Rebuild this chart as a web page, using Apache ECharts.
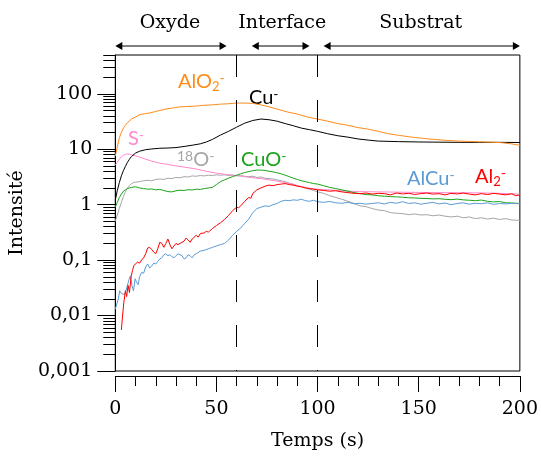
<!DOCTYPE html>
<html>
<head>
<meta charset="utf-8">
<script src="https://cdn.jsdelivr.net/npm/echarts@6/dist/echarts.min.js"></script>
<style>
  html, body { margin: 0; padding: 0; background: #fff; }
  #chart { width: 541px; height: 456px; }
</style>
</head>
<body>
<div id="chart"></div>
<script>
// --- data (time in s, intensity) ---
const alo2 = [[0,7.5],[1,11],[2,16],[3,20],[4,24],[5,27],[6,30],[8,35],[10,38],[12,42],[15,44],[17,45],[20,48],[22,50],[25,53],[28,55],[32,58],[36,59],[40,60],[44,62],[48,63],[52,65],[56,66],[60,68],[64,68],[68,67],[72,63],[76,58],[80,53],[85,47],[90,43],[95,38],[100,35],[105,32],[110,29],[115,27],[120,24.5],[125,23],[130,21],[135,19],[140,17.8],[145,16.8],[150,16],[155,15.3],[160,14.8],[165,14.3],[170,14],[175,13.8],[180,13.6],[185,13.4],[190,13.2],[195,12.6],[200,11.8]];
const cu = [[0,1.2],[1,1.8],[2,2.5],[3,3.3],[4,4.1],[5,4.9],[6,5.8],[7,6.6],[8,7.4],[10,8.5],[12,9.2],[15,9.8],[18,10.1],[22,10.4],[26,10.5],[30,10.7],[34,11.2],[38,11.8],[42,12.5],[45,13.5],[48,15],[52,18],[56,21],[60,25],[64,29.5],[68,33],[72,35],[76,34],[80,32],[84,29],[88,26.5],[92,24],[96,22.5],[100,21],[105,19],[110,17.5],[115,16.5],[120,15.3],[125,14.6],[130,14],[140,13.7],[150,13.5],[160,13.4],[170,13.3],[180,13.3],[190,13.3],[200,13.2]];
const s = [[0,5.2],[1,5.8],[2,6.6],[3,7.3],[4,7.8],[5,8.1],[6,8.2],[7,8.1],[8,7.9],[10,7.6],[12,7.2],[15,6.6],[18,6.1],[22,5.6],[26,5.3],[30,5.0],[35,4.7],[40,4.4],[45,4.0],[50,3.7],[55,3.5],[60,3.35],[65,3.15],[70,3.0],[75,2.85],[80,2.65],[85,2.45],[90,2.2],[95,2.0],[100,1.9],[110,1.8],[120,1.72],[130,1.7],[140,1.68],[150,1.66],[160,1.65],[170,1.64],[180,1.63],[190,1.6],[200,1.55]];
const o18 = [[0,0.5],[1,0.65],[2,0.85],[3,1.1],[4,1.4],[5,1.7],[6,2.0],[7,2.2],[8,2.4],[9,2.5],[10,2.55],[12,2.6],[14,2.7],[16,2.75],[18,2.7],[20,2.85],[22,2.9],[24,2.85],[26,3.0],[28,2.95],[30,3.1],[32,3.05],[34,3.2],[36,3.15],[38,3.3],[40,3.25],[42,3.35],[44,3.3],[46,3.4],[48,3.35],[50,3.45],[52,3.4],[54,3.45],[56,3.35],[58,3.4],[60,3.3],[62,3.35],[64,3.25],[66,3.2],[68,3.25],[70,3.1],[72,3.15],[74,3.0],[76,2.95],[78,2.9],[80,2.8],[82,2.7],[84,2.6],[86,2.45],[88,2.35],[90,2.2],[92,2.1],[94,2.0],[96,1.9],[98,1.8],[100,1.7],[103,1.6],[106,1.45],[109,1.35],[112,1.25],[115,1.15],[118,1.05],[121,0.95],[124,0.92],[127,0.85],[130,0.8],[133,0.78],[136,0.72],[139,0.7],[142,0.69],[145,0.66],[148,0.68],[151,0.65],[154,0.66],[157,0.63],[160,0.65],[163,0.62],[166,0.6],[169,0.62],[172,0.58],[175,0.6],[178,0.56],[181,0.58],[184,0.55],[187,0.57],[190,0.54],[193,0.56],[196,0.53],[200,0.52]];
const cuo = [[0,0.9],[1,1.1],[2,1.35],[3,1.55],[4,1.75],[5,1.85],[6,1.95],[8,2.05],[10,2.1],[12,2.0],[14,1.95],[16,1.9],[18,1.92],[20,1.85],[22,1.88],[24,1.8],[26,1.72],[28,1.7],[30,1.78],[32,1.82],[34,1.8],[36,1.86],[38,1.84],[40,1.9],[42,1.88],[44,1.95],[46,2.0],[48,2.05],[50,2.3],[52,2.6],[54,2.8],[56,3.0],[58,3.2],[60,3.4],[62,3.6],[64,3.8],[66,3.95],[68,4.1],[70,4.2],[72,4.2],[74,4.15],[76,4.0],[78,3.9],[80,3.75],[82,3.6],[84,3.4],[86,3.2],[88,3.0],[90,2.85],[92,2.7],[94,2.6],[96,2.5],[98,2.4],[100,2.35],[103,2.2],[106,2.05],[109,1.95],[112,1.85],[115,1.75],[118,1.65],[121,1.58],[124,1.52],[127,1.5],[130,1.45],[133,1.42],[136,1.4],[139,1.38],[142,1.36],[145,1.33],[148,1.32],[151,1.3],[154,1.29],[157,1.27],[160,1.28],[163,1.25],[166,1.23],[169,1.26],[172,1.22],[175,1.2],[178,1.18],[181,1.21],[184,1.15],[187,1.12],[190,1.14],[193,1.08],[196,1.07],[200,1.05]];
const alcu = [[0,0.013],[0.7,0.013],[1.5,0.02],[2.2,0.028],[3,0.025],[3.8,0.027],[4.5,0.024],[5.3,0.028],[6,0.03],[6.8,0.045],[7.5,0.052],[8.2,0.035],[9,0.028],[9.8,0.046],[10.5,0.04],[11.3,0.036],[12,0.05],[13,0.06],[14,0.058],[15,0.075],[16,0.085],[17,0.072],[18,0.078],[19,0.088],[20,0.085],[21,0.095],[22,0.105],[23,0.11],[24,0.125],[25,0.13],[26,0.12],[27,0.125],[28,0.115],[29,0.11],[30,0.12],[31,0.13],[32,0.125],[33,0.12],[34,0.105],[35,0.11],[36,0.125],[37,0.12],[38,0.11],[39,0.125],[40,0.13],[42,0.145],[44,0.15],[46,0.16],[48,0.17],[50,0.18],[52,0.19],[54,0.2],[56,0.23],[58,0.28],[60,0.33],[62,0.38],[64,0.46],[66,0.55],[68,0.72],[70,0.85],[72,0.9],[74,0.95],[76,0.93],[78,1.0],[80,1.05],[82,1.15],[84,1.2],[86,1.18],[88,1.22],[90,1.2],[92,1.25],[94,1.18],[96,1.15],[98,1.2],[100,1.13],[103,1.1],[106,1.14],[109,1.08],[112,1.06],[115,1.1],[118,1.04],[121,1.06],[124,1.02],[127,1.05],[130,1.08],[133,1.03],[136,1.1],[139,1.06],[142,1.13],[145,1.05],[148,1.08],[151,1.02],[154,1.06],[157,1.1],[160,1.03],[163,1.07],[166,1.0],[169,1.05],[172,1.08],[175,1.02],[178,1.06],[181,1.04],[184,1.08],[187,1.01],[190,1.05],[193,1.03],[196,1.06],[200,1.04]];
const al2 = [[3,0.0055],[3.5,0.009],[4.2,0.017],[5,0.028],[5.6,0.022],[6.3,0.035],[7,0.026],[7.8,0.05],[8.5,0.065],[9.2,0.08],[10,0.078],[11,0.092],[12,0.088],[13,0.1],[14,0.11],[15,0.13],[16,0.165],[17,0.17],[18,0.155],[19,0.14],[20,0.13],[21,0.16],[22,0.21],[23,0.2],[24,0.17],[25,0.2],[26,0.24],[27,0.19],[28,0.16],[29,0.18],[30,0.2],[31,0.19],[32,0.2],[34,0.22],[35,0.25],[36,0.23],[37,0.21],[38,0.24],[40,0.28],[41,0.26],[42,0.3],[44,0.31],[45,0.33],[46,0.32],[48,0.37],[50,0.42],[52,0.47],[54,0.54],[56,0.64],[58,0.78],[60,0.9],[61,0.88],[62,0.95],[64,1.15],[66,1.35],[67,1.3],[68,1.6],[70,1.85],[72,2.0],[74,2.15],[76,2.25],[78,2.2],[80,2.3],[82,2.35],[84,2.4],[86,2.3],[88,2.25],[90,2.15],[92,2.1],[94,2.0],[96,1.95],[98,1.9],[100,1.85],[103,1.8],[106,1.75],[109,1.78],[112,1.7],[115,1.65],[118,1.6],[121,1.58],[124,1.62],[127,1.55],[130,1.6],[133,1.58],[136,1.5],[139,1.62],[142,1.56],[145,1.6],[148,1.53],[151,1.58],[154,1.62],[157,1.55],[160,1.58],[163,1.5],[166,1.6],[169,1.56],[172,1.62],[175,1.55],[178,1.5],[181,1.58],[184,1.52],[187,1.6],[190,1.55],[193,1.5],[196,1.57],[198,1.45],[200,1.5]];

const yTickValues = [0.001, 0.01, 0.1, 1, 10, 100];
const yTickLabels = ['0,001', '0,01', '0,1', '1', '10', '100'];
const boundaries = [60, 100];
const zoneNames = ['Oxyde', 'Interface', 'Substrat'];
const zoneStart = [0, 67.5, 103];
const zoneEnd = [55, 96, 200];
const zoneMid = [27, 82.5, 151];

const yMinorValues = [];
for (let e = -3; e <= 2; e++) {
  for (let k = 2; k <= 9; k++) {
    const v = +(k * Math.pow(10, e)).toPrecision(3);
    if (v <= 500) yMinorValues.push(v);
  }
}

const serif = 'DejaVu Serif';
const sans = 'Lato';
const yMin = 0.001, yMax = 500;

const chart = echarts.init(document.getElementById('chart'), null, { renderer: 'canvas' });

function line(name, data, color, extra) {
  return Object.assign({
    name: name,
    type: 'line',
    data: data,
    symbol: 'none',
    showSymbol: false,
    silent: true,
    lineStyle: { color: color, width: 1 },
    itemStyle: { color: color }
  }, extra || {});
}

chart.setOption({
  backgroundColor: '#fff',
  animation: false,
  grid: {
    left: 115, right: 21, top: 55, bottom: 80,
    show: true, borderColor: '#000', borderWidth: 1, backgroundColor: 'transparent'
  },
  xAxis: {
    type: 'value', min: 0, max: 200, interval: 50, offset: 5,
    axisLine: { show: true, onZero: false, lineStyle: { color: '#000', width: 1 } },
    axisTick: { show: true, length: 16, lineStyle: { color: '#000' } },
    minorTick: { show: true, splitNumber: 5, length: 10, lineStyle: { color: '#000' } },
    splitLine: { show: false },
    minorSplitLine: { show: false },
    axisLabel: { fontFamily: serif, fontSize: 19, color: '#000', margin: 24 },
    name: 'Temps (s)', nameLocation: 'middle', nameGap: 56,
    nameTextStyle: { fontFamily: serif, fontSize: 19, color: '#000' }
  },
  yAxis: [{
    type: 'log', logBase: 10, min: yMin, max: yMax, position: 'left',
    axisLine: { show: true, lineStyle: { color: '#000' } },
    axisTick: { show: true, length: 18, customValues: yTickValues, lineStyle: { color: '#000' } },
    minorTick: { show: false },
    splitLine: { show: false },
    axisLabel: {
      customValues: yTickValues,
      formatter: function (v) { return yTickLabels[Math.round(Math.log10(v)) + 3]; },
      fontFamily: serif, fontSize: 19, color: '#000', margin: 23
    },
    name: 'Intensité', nameLocation: 'middle', nameGap: 77,
    nameTextStyle: { fontFamily: serif, fontSize: 19, color: '#000' }
  }, {
    type: 'log', logBase: 10, min: yMin, max: yMax, position: 'left',
    axisLine: { show: false },
    axisTick: { show: true, length: 12, customValues: yMinorValues, lineStyle: { color: '#000' } },
    axisLabel: { show: false },
    splitLine: { show: false }
  }],
  series: [
    line('18O-', o18, '#a6a6a6'),
    line('S-', s, '#ff88cc'),
    line('CuO-', cuo, '#1aa31a'),
    line('AlCu-', alcu, '#5b9bd5'),
    line('Al2-', al2, '#ff0000'),
    line('Cu-', cu, '#000000'),
    line('AlO2-', alo2, '#ff8c1a', {
      markLine: {
        silent: true, symbol: 'none',
        label: { show: false },
        lineStyle: { color: '#000', width: 1, type: [22, 23] },
        data: boundaries.map(b => [{ coord: [b, yMax] }, { coord: [b, yMin] }])
      }
    })
  ]
});

// annotations: zone arrows + series labels
const rich = {
  m: { fontSize: 20, fontFamily: sans, lineHeight: 22 },
  sub: { fontSize: 13, fontFamily: sans, lineHeight: 13, verticalAlign: 'bottom', padding: [8, 0, 0, 0] },
  sup: { fontSize: 14, fontFamily: sans, lineHeight: 10, verticalAlign: 'top' }
};
function label(x, y, color, text) {
  return { type: 'text', x: x, y: y, silent: true,
    style: { text: text, fill: color, rich: rich, align: 'left', verticalAlign: 'top' } };
}

const arrowY = 46;
const els = [];
zoneNames.forEach((n, i) => {
  const x1 = chart.convertToPixel({ xAxisIndex: 0 }, zoneStart[i]);
  const x2 = chart.convertToPixel({ xAxisIndex: 0 }, zoneEnd[i]);
  const xm = chart.convertToPixel({ xAxisIndex: 0 }, zoneMid[i]);
  els.push({ type: 'line', silent: true, shape: { x1: x1 + 4, y1: arrowY, x2: x2 - 4, y2: arrowY },
    style: { stroke: '#000', lineWidth: 1 } });
  els.push({ type: 'polygon', silent: true, shape: { points: [[x1, arrowY], [x1 + 7, arrowY - 4], [x1 + 7, arrowY + 4]] },
    style: { fill: '#000' } });
  els.push({ type: 'polygon', silent: true, shape: { points: [[x2, arrowY], [x2 - 7, arrowY - 4], [x2 - 7, arrowY + 4]] },
    style: { fill: '#000' } });
  els.push({ type: 'text', x: xm, y: 23, silent: true,
    style: { text: n, fontFamily: serif, fontSize: 19, fill: '#000', align: 'center', verticalAlign: 'middle' } });
});

els.push(label(178, 71, '#ff8c1a', '{m|AlO}{sub|2}{sup|-}'));
els.push(label(249, 87, '#000000', '{m|Cu}{sup|-}'));
els.push(label(128, 128, '#ff88cc', '{m|S}{sup|-}'));
els.push(label(177, 149, '#a6a6a6', '{sup|18}{m|O}{sup|-}'));
els.push(label(241, 149, '#1aa31a', '{m|CuO}{sup|-}'));
els.push(label(407, 168, '#5b9bd5', '{m|AlCu}{sup|-}'));
els.push(label(475, 166, '#ff0000', '{m|Al}{sub|2}{sup|-}'));

chart.setOption({ graphic: els });
</script>
</body>
</html>
